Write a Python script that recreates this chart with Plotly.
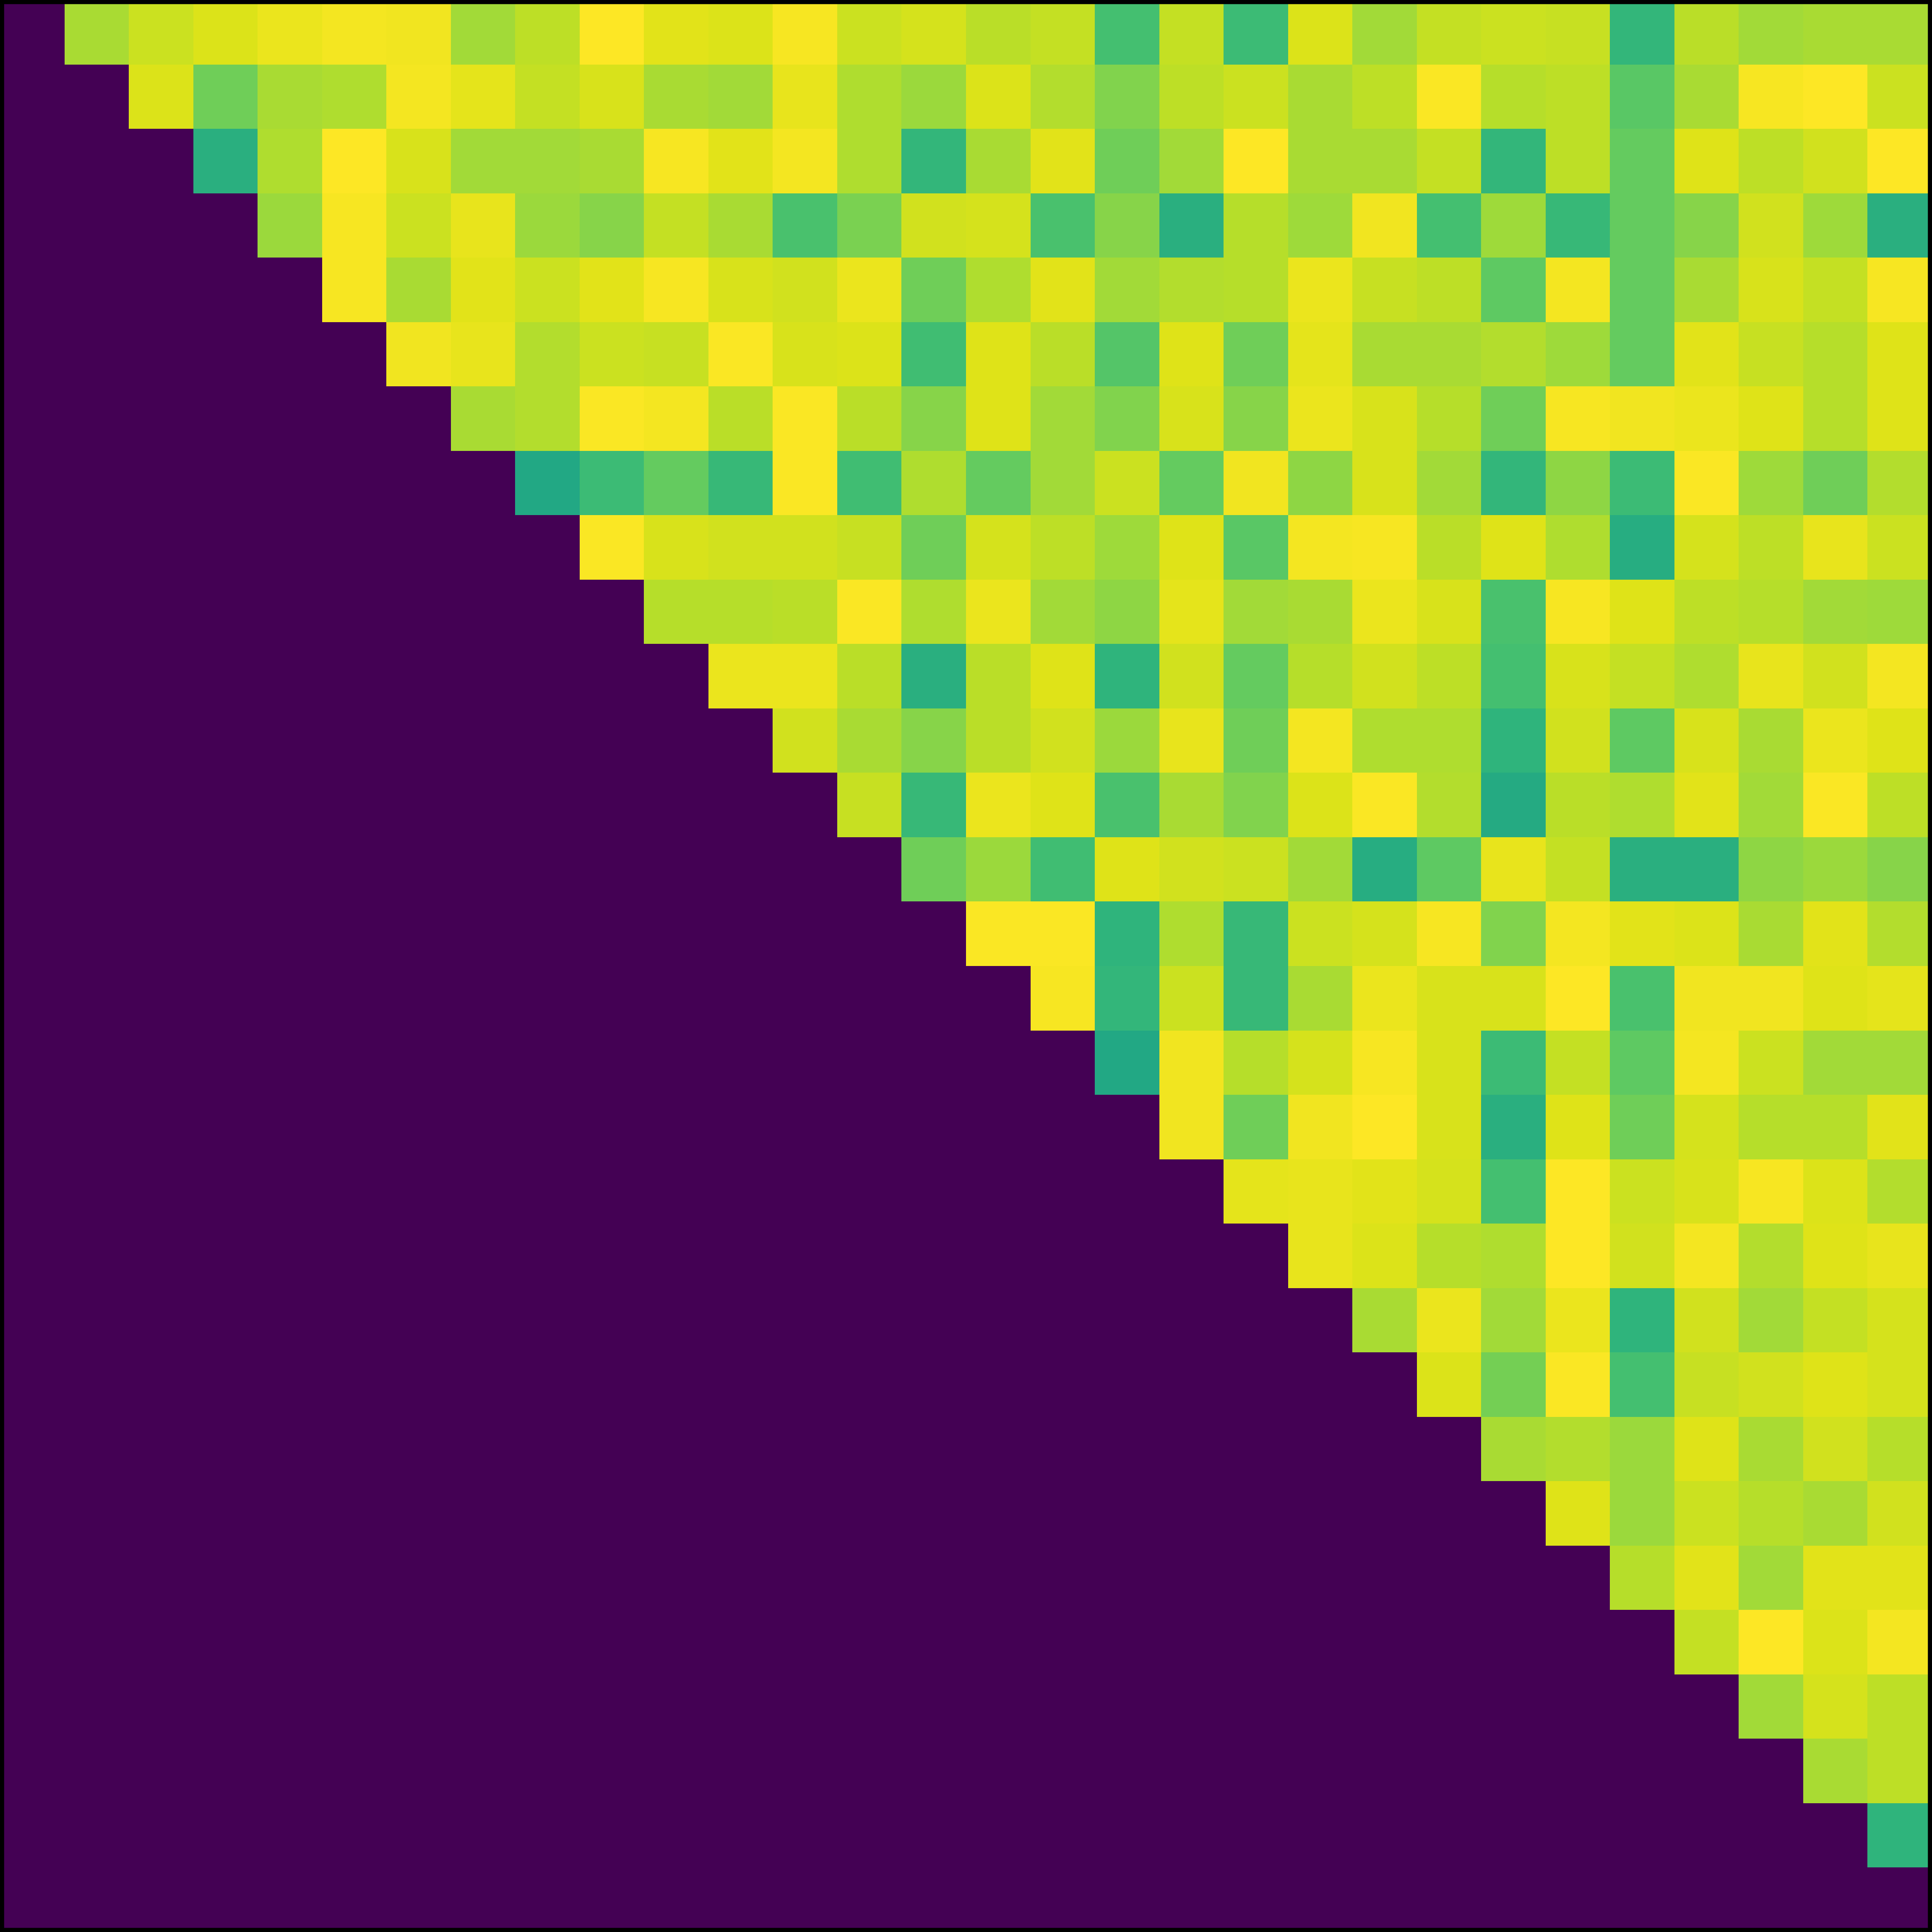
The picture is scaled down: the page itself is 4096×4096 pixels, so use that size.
import plotly.graph_objects as go

N = 30

# Upper-triangle values: row i holds columns i+1 .. 29 (everything else is 0)
row_00 = [0.87, 0.92, 0.945, 0.97, 0.985, 0.98, 0.86, 0.90, 1.0, 0.955, 0.945, 0.99, 0.92, 0.935, 0.895, 0.91, 0.70, 0.91, 0.68, 0.945, 0.86, 0.91, 0.92, 0.915, 0.66, 0.895, 0.86, 0.87, 0.87]
row_01 = [0.945, 0.78, 0.87, 0.88, 0.985, 0.96, 0.91, 0.94, 0.87, 0.86, 0.965, 0.88, 0.85, 0.945, 0.885, 0.81, 0.90, 0.92, 0.87, 0.90, 0.995, 0.89, 0.90, 0.74, 0.87, 0.99, 1.0, 0.92]
row_02 = [0.63, 0.88, 1.0, 0.94, 0.86, 0.86, 0.87, 0.99, 0.955, 0.985, 0.88, 0.66, 0.87, 0.955, 0.78, 0.86, 1.0, 0.87, 0.87, 0.91, 0.66, 0.90, 0.76, 0.95, 0.90, 0.93, 1.0]
row_03 = [0.85, 0.99, 0.92, 0.965, 0.85, 0.82, 0.91, 0.87, 0.71, 0.80, 0.93, 0.935, 0.71, 0.82, 0.63, 0.89, 0.855, 0.98, 0.70, 0.855, 0.67, 0.76, 0.82, 0.93, 0.855, 0.63]
row_04 = [0.99, 0.87, 0.955, 0.92, 0.955, 0.99, 0.94, 0.93, 0.97, 0.78, 0.88, 0.955, 0.86, 0.885, 0.89, 0.97, 0.915, 0.90, 0.75, 0.985, 0.76, 0.87, 0.94, 0.91, 0.99]
row_05 = [0.98, 0.965, 0.885, 0.92, 0.915, 0.995, 0.94, 0.945, 0.69, 0.95, 0.895, 0.73, 0.95, 0.78, 0.96, 0.87, 0.87, 0.885, 0.855, 0.76, 0.955, 0.915, 0.89, 0.95]
row_06 = [0.87, 0.885, 0.995, 0.985, 0.895, 0.995, 0.895, 0.82, 0.95, 0.86, 0.81, 0.94, 0.82, 0.97, 0.94, 0.89, 0.78, 0.99, 0.98, 0.97, 0.95, 0.89, 0.95]
row_07 = [0.60, 0.68, 0.76, 0.67, 0.995, 0.69, 0.88, 0.76, 0.86, 0.92, 0.76, 0.98, 0.83, 0.94, 0.86, 0.66, 0.83, 0.68, 0.995, 0.855, 0.78, 0.885]
row_08 = [0.995, 0.94, 0.93, 0.93, 0.915, 0.78, 0.935, 0.90, 0.855, 0.95, 0.74, 0.985, 0.99, 0.895, 0.95, 0.88, 0.62, 0.935, 0.90, 0.965, 0.92]
row_09 = [0.89, 0.89, 0.895, 0.995, 0.88, 0.97, 0.86, 0.83, 0.96, 0.86, 0.87, 0.97, 0.94, 0.71, 0.99, 0.95, 0.90, 0.89, 0.86, 0.855]
row_10 = [0.97, 0.97, 0.895, 0.63, 0.895, 0.95, 0.65, 0.93, 0.76, 0.89, 0.93, 0.90, 0.70, 0.94, 0.91, 0.88, 0.965, 0.93, 0.985]
row_11 = [0.93, 0.87, 0.82, 0.895, 0.93, 0.85, 0.965, 0.78, 0.985, 0.88, 0.88, 0.65, 0.93, 0.75, 0.94, 0.87, 0.97, 0.95]
row_12 = [0.915, 0.67, 0.97, 0.95, 0.71, 0.87, 0.81, 0.945, 0.995, 0.885, 0.61, 0.895, 0.88, 0.955, 0.86, 0.995, 0.90]
row_13 = [0.78, 0.85, 0.69, 0.95, 0.93, 0.92, 0.86, 0.62, 0.75, 0.965, 0.91, 0.63, 0.63, 0.83, 0.85, 0.82]
row_14 = [0.995, 0.995, 0.65, 0.88, 0.67, 0.92, 0.935, 0.99, 0.81, 0.985, 0.955, 0.945, 0.87, 0.955, 0.885]
row_15 = [0.99, 0.66, 0.92, 0.67, 0.87, 0.97, 0.94, 0.94, 1.0, 0.71, 0.98, 0.98, 0.95, 0.96]
row_16 = [0.60, 0.98, 0.89, 0.935, 0.99, 0.94, 0.68, 0.91, 0.75, 0.985, 0.92, 0.86, 0.86]
row_17 = [0.98, 0.78, 0.98, 1.0, 0.94, 0.63, 0.95, 0.78, 0.935, 0.89, 0.89, 0.955]
row_18 = [0.96, 0.965, 0.955, 0.935, 0.70, 1.0, 0.92, 0.94, 0.99, 0.945, 0.885]
row_19 = [0.965, 0.945, 0.89, 0.88, 1.0, 0.93, 0.985, 0.885, 0.95, 0.965]
row_20 = [0.87, 0.97, 0.86, 0.97, 0.65, 0.93, 0.86, 0.91, 0.935]
row_21 = [0.945, 0.79, 0.995, 0.70, 0.915, 0.93, 0.95, 0.935]
row_22 = [0.87, 0.885, 0.85, 0.95, 0.87, 0.93, 0.89]
row_23 = [0.95, 0.85, 0.92, 0.89, 0.87, 0.93]
row_24 = [0.89, 0.955, 0.86, 0.955, 0.955]
row_25 = [0.91, 1.0, 0.945, 0.985]
row_26 = [0.86, 0.935, 0.90]
row_27 = [0.87, 0.90]
row_28 = [0.65]

upper_rows = [row_00, row_01, row_02, row_03, row_04, row_05, row_06, row_07,
              row_08, row_09, row_10, row_11, row_12, row_13, row_14, row_15,
              row_16, row_17, row_18, row_19, row_20, row_21, row_22, row_23,
              row_24, row_25, row_26, row_27, row_28]

z = [[0.0] * N for _ in range(N)]
for i, vals in enumerate(upper_rows):
    for k, v in enumerate(vals):
        z[i][i + 1 + k] = v

viridis = ["#440154", "#471365", "#482475", "#463480", "#414487", "#3b528b",
           "#355f8d", "#2f6c8e", "#2a788e", "#25848e", "#21918c", "#1e9c89",
           "#22a884", "#2fb47c", "#44bf70", "#5ec962", "#7ad151", "#9bd93c",
           "#bddf26", "#dfe318", "#fde725"]
colorscale = [[i / (len(viridis) - 1), c] for i, c in enumerate(viridis)]

fig = go.Figure(go.Heatmap(
    z=z,
    x=list(range(N)),
    y=list(range(N)),
    colorscale=colorscale,
    zmin=0, zmax=1,
    showscale=False,
    hoverongaps=False,
))

W = 4096
fig.update_layout(
    width=W, height=W,
    margin=dict(l=0, r=0, t=0, b=0, pad=0),
    paper_bgcolor="black",
    plot_bgcolor="black",
    xaxis=dict(range=[-0.5, N - 0.5], showticklabels=False, ticks="",
               showgrid=False, zeroline=False, showline=False, fixedrange=True),
    yaxis=dict(range=[N - 0.5, -0.5], showticklabels=False, ticks="",
               showgrid=False, zeroline=False, showline=False, fixedrange=True),
    shapes=[dict(type="rect", xref="paper", yref="paper", x0=0, y0=0, x1=1, y1=1,
                 line=dict(color="black", width=17.5), fillcolor="rgba(0,0,0,0)",
                 layer="above")],
)

fig.write_html("out.html")
